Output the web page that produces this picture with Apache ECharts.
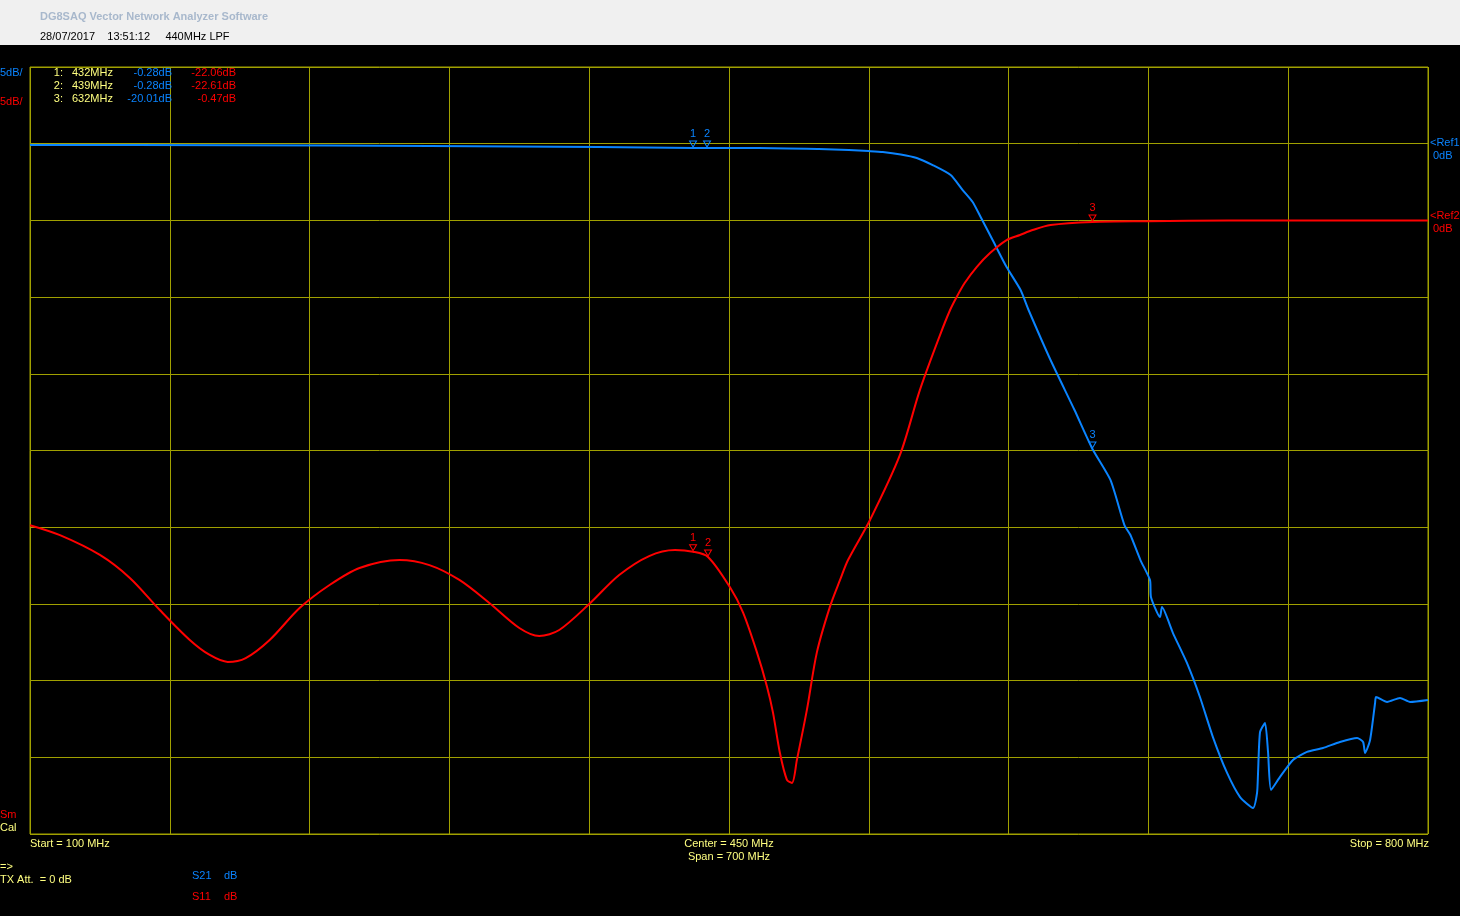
<!DOCTYPE html>
<html><head><meta charset="utf-8">
<script src="https://cdn.jsdelivr.net/npm/echarts@6/dist/echarts.min.js"></script>
<style>html,body{margin:0;padding:0;background:#000;}#c{width:1460px;height:916px;}</style>
</head><body><div id="c"></div>
<script>
// Frequency sweep (MHz) and S-parameter magnitudes (dB)
const s21Points = [[100,-0.08],[200,-0.1],[300,-0.15],[385,-0.22],[432,-0.28],[465,-0.28],[495,-0.35],[510,-0.41],[520,-0.48],[527,-0.54],[536,-0.7],[544,-0.93],[552,-1.39],[561,-2.04],[567,-3.02],[572,-3.8],[576,-4.78],[582,-6.28],[589,-8.04],[596,-9.54],[600,-10.84],[611,-14.1],[623,-17.36],[632,-19.9],[641,-21.92],[648,-24.86],[651,-25.51],[656,-27.14],[660.8,-28.45],[661.3,-29.56],[665.8,-30.86],[666.8,-30.21],[672.3,-31.9],[679.3,-33.85],[685.8,-36.07],[692.3,-38.68],[699.4,-41.02],[705.9,-42.59],[712.4,-43.3],[714.4,-42.32],[714.9,-41.02],[715.9,-38.35],[718.4,-37.76],[719.9,-39.65],[721.4,-42.13],[725.9,-41.28],[732.4,-40.17],[739.4,-39.65],[747.4,-39.39],[755.9,-39.0],[764.5,-38.74],[767.5,-39.0],[768.5,-39.72],[771,-38.87],[773.5,-36.46],[774,-36.07],[779.5,-36.39],[786,-36.13],[791,-36.39],[800,-36.26]];
const s11Points = [[100,-19.87],[115,-20.52],[135,-21.81],[150,-23.31],[165,-25.4],[180,-27.35],[190,-28.33],[199,-28.78],[208,-28.53],[220,-27.35],[235,-25.27],[250,-23.77],[265,-22.66],[285,-22.14],[300,-22.47],[315,-23.44],[330,-24.94],[345,-26.57],[355,-27.09],[365,-26.7],[380,-25.01],[395,-23.12],[410,-21.88],[423,-21.49],[432,-21.6],[439.5,-21.94],[450.5,-23.92],[457,-25.55],[464,-28.16],[469,-30.38],[472,-32.07],[475.5,-34.72],[479,-36.47],[481.5,-36.67],[484,-35.17],[489,-31.91],[494,-28.16],[500.6,-25.16],[505.6,-23.44],[509.6,-22.14],[520.6,-19.53],[535.6,-15.29],[545.6,-11.05],[555.7,-7.46],[560.7,-5.84],[564,-4.99],[568,-4.08],[574,-3.04],[580.7,-2.13],[589,-1.28],[595.7,-0.95],[602,-0.63],[611,-0.3],[632,-0.1],[660,-0.05],[700,0],[750,0],[800,0]];
const s21Markers = [["1",432,-0.28],["2",439,-0.28],["3",632,-19.9]];
const s11Markers = [["1",432,-21.6],["2",439.5,-21.94],["3",632,-0.1]];
const markerRows = [["1:","432MHz","-0.28dB","-22.06dB"],["2:","439MHz","-0.28dB","-22.61dB"],["3:","632MHz","-20.01dB","-0.47dB"]];
const freqMin = 100, freqMax = 800, freqStep = 70;
const s21Min = -45, s21Max = 5, s11Min = -40, s11Max = 10, dbStep = 5;

const BLUE = '#0a84ff', RED = '#ff0000', YEL = '#ffff80', GRID = '#a0a000';
const FONT = '"Liberation Sans", Arial, sans-serif';
function txt(x, y, s, color, align, size, weight) {
  return {type:'text', left:undefined, x:x, y:y, style:{text:s, fill:color, font:(weight||'normal')+' '+(size||11)+'px '+FONT, textAlign:align||'left', textVerticalAlign:'middle'}, z:10};
}
function markerSeriesData(list){ return list.map(m => ({name:m[0], coord:[m[1], m[2]]})); }
function markPointCfg(list, color){
  return {
    symbol:'path://M0,0 L10,0 L5,9 Z', symbolSize:[7,6], symbolOffset:[0,-4],
    itemStyle:{color:'rgba(0,0,0,0)', borderColor:color, borderWidth:1},
    label:{show:true, position:'top', distance:1, formatter:'{b}', color:color, fontSize:11, fontFamily:FONT},
    data: markerSeriesData(list), animation:false
  };
}
const graphics = [
  {type:'rect', shape:{x:0,y:0,width:1460,height:45}, style:{fill:'#f0f0f0'}, z:0},
  txt(40, 17, 'DG8SAQ Vector Network Analyzer Software', '#a8b8cc', 'left', 11, 'bold'),
  txt(40, 37, '28/07/2017    13:51:12     440MHz LPF', '#000000', 'left', 11),
  txt(0, 73, '5dB/', BLUE), txt(0, 102, '5dB/', RED),
  txt(0, 815, 'Sm', RED), txt(0, 828, 'Cal', YEL),
  txt(30, 844, 'Start = 100 MHz', YEL),
  txt(729, 844, 'Center = 450 MHz', YEL, 'center'),
  txt(729, 857, 'Span = 700 MHz', YEL, 'center'),
  txt(1429, 844, 'Stop = 800 MHz', YEL, 'right'),
  txt(0, 867, '=>', YEL), txt(0, 880, 'TX Att.  = 0 dB', YEL),
  txt(192, 876, 'S21', BLUE), txt(224, 876, 'dB', BLUE),
  txt(192, 897, 'S11', RED), txt(224, 897, 'dB', RED),
  txt(1430, 143, '<Ref1', BLUE), txt(1433, 156, '0dB', BLUE),
  txt(1430, 216, '<Ref2', RED), txt(1433, 229, '0dB', RED)
];
markerRows.forEach((r, i) => {
  const y = 73 + i*13;
  graphics.push(txt(63, y, r[0], YEL, 'right'));
  graphics.push(txt(72, y, r[1], YEL));
  graphics.push(txt(172, y, r[2], BLUE, 'right'));
  graphics.push(txt(236, y, r[3], RED, 'right'));
});

const chart = echarts.init(document.getElementById('c'), null, {renderer:'canvas'});
chart.setOption({
  backgroundColor:'#000',
  animation:false,
  grid:{left:30, right:32, top:67, height:767, show:true, borderColor:GRID, borderWidth:1, backgroundColor:'transparent'},
  xAxis:{type:'value', min:freqMin, max:freqMax, interval:freqStep,
    axisLine:{show:false}, axisTick:{show:false}, axisLabel:{show:false},
    splitLine:{show:true, lineStyle:{color:GRID, width:1}}},
  yAxis:[
    {type:'value', min:s21Min, max:s21Max, interval:dbStep, axisLine:{show:false}, axisTick:{show:false}, axisLabel:{show:false},
      splitLine:{show:true, lineStyle:{color:GRID, width:1}}},
    {type:'value', min:s11Min, max:s11Max, interval:dbStep, axisLine:{show:false}, axisTick:{show:false}, axisLabel:{show:false},
      splitLine:{show:false}}
  ],
  series:[
    {name:'S21', type:'line', yAxisIndex:0, data:s21Points, showSymbol:false, smooth:0.2,
      lineStyle:{color:BLUE, width:2}, z:3, markPoint:markPointCfg(s21Markers, BLUE)},
    {name:'S11', type:'line', yAxisIndex:1, data:s11Points, showSymbol:false, smooth:0.3,
      lineStyle:{color:RED, width:2}, z:4, markPoint:markPointCfg(s11Markers, RED)}
  ],
  graphic: graphics
});
</script></body></html>
